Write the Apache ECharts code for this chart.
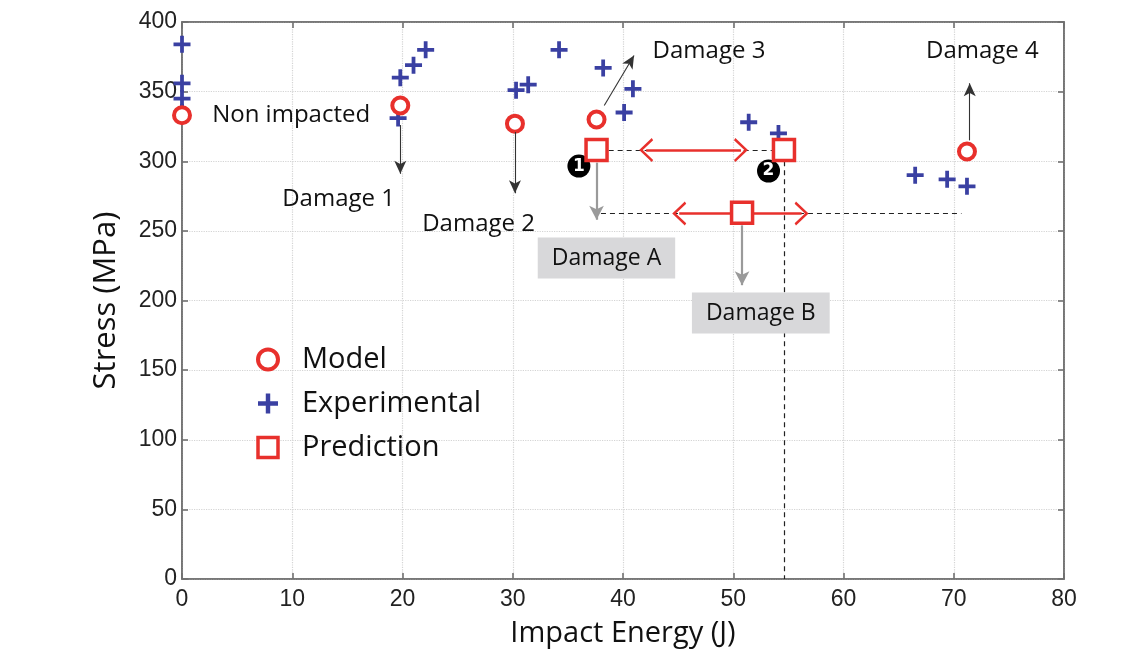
<!DOCTYPE html>
<html>
<head>
<meta charset="utf-8">
<script src="https://cdn.jsdelivr.net/npm/echarts@6/dist/echarts.min.js"></script>
<style>html,body{margin:0;padding:0;background:#fff;}#c{width:1140px;height:653px;}</style>
</head>
<body>
<div id="c"></div>
<script>
// ---- data (Impact Energy J, Stress MPa) ----
const modelData = [[0, 333], [19.8, 340], [30.2, 327], [37.6, 330], [71.2, 307]];
const expData = [[0, 384], [0, 356], [0, 345], [0, 335], [19.6, 331], [19.8, 360], [21.0, 369], [22.1, 380],
  [30.3, 351], [31.4, 355], [34.2, 380], [38.2, 367], [40.1, 335], [40.9, 352],
  [51.4, 328], [54.1, 320], [66.5, 290], [69.4, 287], [71.2, 282]];
const predData = [[37.6, 308], [54.6, 308], [50.8, 263]];
const xTicks = [0, 10, 20, 30, 40, 50, 60, 70, 80];
const yTicks = [0, 50, 100, 150, 200, 250, 300, 350, 400];

// annotation arrows (data coords): [from, to]
const blackArrows = [
  [[19.8, 326], [19.8, 291]],
  [[30.2, 321], [30.2, 277]],
  [[38.3, 340], [41.0, 376]],
  [[71.45, 315], [71.45, 356]]
];
const grayArrows = [
  [[37.6, 299], [37.6, 258]],
  [[50.8, 254], [50.8, 211]]
];
const dashedLines = [
  [[38.7, 308], [53.5, 308]],
  [[38.0, 262.5], [70.7, 262.5]],
  [[54.6, 300], [54.6, 0]]
];
const redArrows = [
  [[42.1, 308], [50.7, 308]],
  [[45.1, 262.5], [56.2, 262.5]]
];
const textLabels = [
  {text: 'Non impacted', at: [9.9, 333]},
  {text: 'Damage 1', at: [14.2, 273]},
  {text: 'Damage 2', at: [26.9, 255]},
  {text: 'Damage 3', at: [47.8, 379]},
  {text: 'Damage 4', at: [72.6, 379]}
];
const boxLabels = [
  {text: 'Damage A', at: [38.5, 230.5]},
  {text: 'Damage B', at: [52.5, 191]}
];
const badgeLabels = [
  {text: '1', at: [36.0, 296.5]},
  {text: '2', at: [53.2, 293]}
];

const RED = '#e8302c';
const BLUE = '#3a40a2';
const PLUS = 'path://M7,0H11V7H18V11H11V18H7V11H0V7H7Z';
const CHEV = 'path://M0,0L10,9L8.2,10L0,2.6L-8.2,10L-10,9Z';
const annFont = '"Open Sans", Lato, sans-serif';

function lines(arr, style, symbols, symSize) {
  return arr.map(function (p) {
    return [{coord: p[0], symbol: symbols[0], symbolSize: symSize, lineStyle: style},
            {coord: p[1], symbol: symbols[1], symbolSize: symSize}];
  });
}

const chart = echarts.init(document.getElementById('c'), null, {renderer: 'canvas'});
const axisLineStyle = {color: '#707070', width: 1.6};
chart.setOption({
  animation: false,
  backgroundColor: '#fff',
  grid: {left: 182, right: 76, top: 22, bottom: 74, show: true, borderColor: '#707070', borderWidth: 1.6,
    backgroundColor: 'transparent'},
  legend: {
    orient: 'vertical', left: 251, top: 340, itemGap: 15, itemWidth: 20, itemHeight: 20,
    data: [
      {name: 'Model', itemStyle: {borderWidth: 4}},
      {name: 'Experimental'},
      {name: 'Prediction', itemStyle: {borderWidth: 3.5}}
    ],
    textStyle: {fontSize: 29, fontFamily: annFont, color: '#111', padding: [0, 0, 0, 19]}
  },
  xAxis: [{
    type: 'value', min: 0, max: 80, interval: 10,
    name: 'Impact Energy (J)', nameLocation: 'middle', nameGap: 40,
    nameTextStyle: {fontSize: 29, fontFamily: annFont, color: '#111'},
    axisLine: {show: true, onZero: false, lineStyle: axisLineStyle},
    axisTick: {show: true, inside: true, length: 6, lineStyle: axisLineStyle},
    axisLabel: {fontSize: 23, fontFamily: '"Liberation Sans", Arial, sans-serif', color: '#222', margin: 9,
      formatter: function (v) { return xTicks.indexOf(v) >= 0 ? String(v) : ''; }},
    splitLine: {show: true, lineStyle: {color: '#d4d4d4', type: 'dotted', width: 1.2}}
  }, {
    type: 'value', min: 0, max: 80, interval: 10, position: 'top',
    axisLine: {show: true, onZero: false, lineStyle: axisLineStyle},
    axisTick: {show: true, inside: true, length: 6, lineStyle: axisLineStyle},
    axisLabel: {show: false}, splitLine: {show: false}
  }],
  yAxis: [{
    type: 'value', min: 0, max: 400, interval: 50,
    name: 'Stress (MPa)', nameLocation: 'middle', nameGap: 60,
    nameTextStyle: {fontSize: 31, fontFamily: annFont, color: '#111'},
    axisLine: {show: true, onZero: false, lineStyle: axisLineStyle},
    axisTick: {show: true, inside: true, length: 6, lineStyle: axisLineStyle},
    axisLabel: {fontSize: 23, fontFamily: '"Liberation Sans", Arial, sans-serif', color: '#222', margin: 5,
      formatter: function (v) { return yTicks.indexOf(v) >= 0 ? String(v) : ''; }},
    splitLine: {show: true, lineStyle: {color: '#d4d4d4', type: 'dotted', width: 1.2}}
  }, {
    type: 'value', min: 0, max: 400, interval: 50, position: 'right',
    axisLine: {show: true, onZero: false, lineStyle: axisLineStyle},
    axisTick: {show: true, inside: true, length: 6, lineStyle: axisLineStyle},
    axisLabel: {show: false}, splitLine: {show: false}
  }],
  series: [
    {
      name: 'frame', type: 'scatter', data: [], xAxisIndex: 1, yAxisIndex: 1, silent: true
    },
    {
      name: 'annotations', type: 'scatter', data: [], z: 1, clip: false, silent: true,
      markLine: {
        silent: true, animation: false, precision: 4,
        label: {show: false}, emphasis: {disabled: true},
        data: [].concat(
          lines(dashedLines, {color: '#222', width: 1.2, type: [5, 4]}, ['none', 'none'], 0),
          lines(blackArrows, {color: '#333', width: 1.1, type: 'solid'}, ['none', 'arrow'], [9, 13]),
          lines(grayArrows, {color: '#9a9a9a', width: 2.2, type: 'solid'}, ['none', 'arrow'], [11, 14]),
          lines(redArrows, {color: RED, width: 2.6, type: 'solid'}, [CHEV, CHEV], [24, 14])
        )
      },
      markPoint: {
        silent: true, animation: false, symbol: 'circle', symbolSize: 0,
        data: [].concat(
          textLabels.map(function (t) {
            return {coord: t.at, value: 0, label: {show: true, position: 'inside', formatter: t.text,
              fontSize: 24, fontFamily: annFont, color: '#111'}};
          }),
          boxLabels.map(function (t) {
            return {coord: t.at, value: 0, label: {show: true, position: 'inside', formatter: t.text,
              fontSize: 23, fontFamily: annFont, color: '#111', backgroundColor: '#d8d8da',
              padding: [10, 14, 8, 14]}};
          }),
          badgeLabels.map(function (t) {
            return {coord: t.at, value: 0, label: {show: true, position: 'inside', formatter: t.text,
              fontSize: 17, fontWeight: 'bold', fontFamily: '"DejaVu Sans", sans-serif', color: '#fff',
              backgroundColor: '#000', width: 23, height: 23, lineHeight: 23, borderRadius: 12, align: 'center'}};
          })
        )
      }
    },
    {
      name: 'Experimental', type: 'scatter', data: expData, z: 3,
      symbol: PLUS, symbolSize: 17,
      itemStyle: {color: BLUE, opacity: 1}
    },
    {
      name: 'Model', type: 'scatter', data: modelData, z: 4,
      symbol: 'circle', symbolSize: 16,
      itemStyle: {color: '#fff', borderColor: RED, borderWidth: 4, opacity: 1}
    },
    {
      name: 'Prediction', type: 'scatter', data: predData, z: 5,
      symbol: 'rect', symbolSize: 21,
      itemStyle: {color: '#fff', borderColor: RED, borderWidth: 3.5, opacity: 1}
    }
  ]
});
</script>
</body>
</html>
